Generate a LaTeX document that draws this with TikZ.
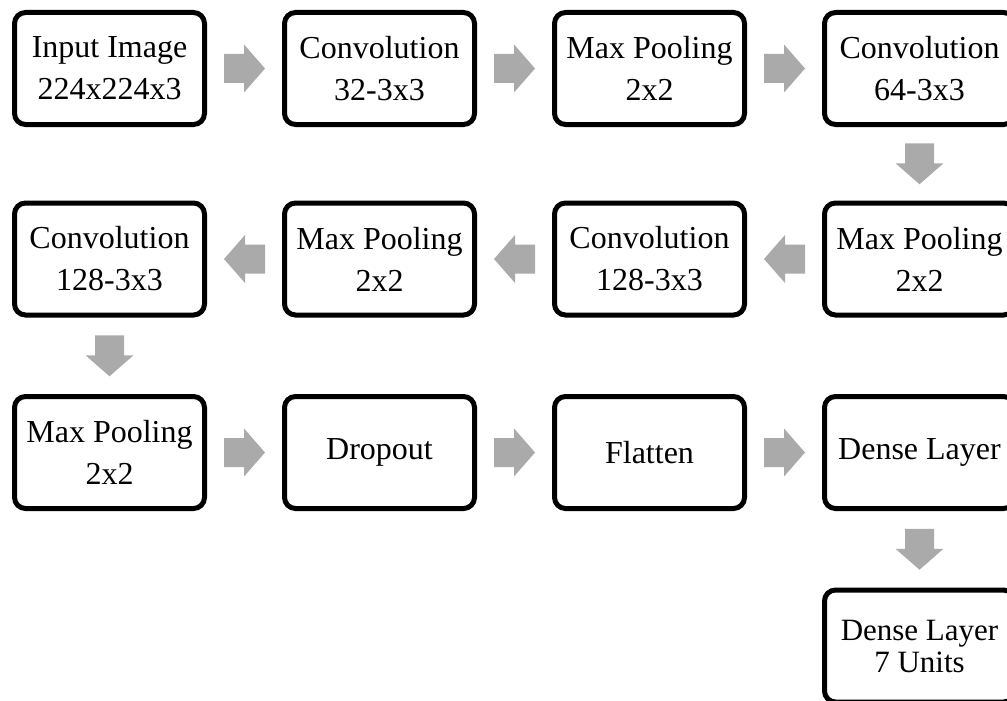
\documentclass[tikz,border=0pt]{standalone}
\usepackage{fontspec}
\setmainfont{Liberation Serif}
\usetikzlibrary{calc}
\definecolor{arrowgray}{RGB}{170,170,170}
\tikzset{
  layerbox/.style={draw=black, line width=5pt, rounded corners=11pt, minimum width=190pt, minimum height=112pt, align=center, inner sep=0pt, font=\fontsize{32}{42}\selectfont},
  lastbox/.style={layerbox, font=\fontsize{31}{32}\selectfont},
  blockarrow/.pic={\fill[arrowgray] (-20.5,-14.5) -- (-0.5,-14.5) -- (-0.5,-24) -- (20.5,0) -- (-0.5,24) -- (-0.5,14.5) -- (-20.5,14.5) -- cycle;},
}
\begin{document}
\begin{tikzpicture}[x=1pt,y=-1pt]
\useasboundingbox (0,0) rectangle (1007,701);
% row 1
\node[layerbox] (in)  at (109.5,68.5) {Input Image\\224x224x3};
\node[layerbox] (cv1) at (379.5,68.5) {Convolution\\32-3x3};
\node[layerbox] (mp1) at (649.5,68.5) {Max Pooling\\2x2};
\node[layerbox] (cv2) at (919.5,68.5) {Convolution\\64-3x3};
% row 2
\node[layerbox] (mp2) at (919.5,259) {Max Pooling\\2x2};
\node[layerbox] (cv3) at (649.5,259) {Convolution\\128-3x3};
\node[layerbox] (mp3) at (379.5,259) {Max Pooling\\2x2};
\node[layerbox] (cv4) at (109.5,259) {Convolution\\128-3x3};
% row 3
\node[layerbox] (mp4) at (109.5,452.5) {Max Pooling\\2x2};
\node[layerbox] (dr)  at (379.5,452.5) {Dropout};
\node[layerbox] (fl)  at (649.5,452.5) {Flatten};
\node[layerbox] (de1) at (919.5,452.5) {Dense Layer};
% row 4
\node[lastbox] (de2) at (919.5,646) {Dense Layer\\7 Units};
% arrows
\pic at ($(in.east)!0.5!(cv1.west)$) {blockarrow};
\pic at ($(cv1.east)!0.5!(mp1.west)$) {blockarrow};
\pic at ($(mp1.east)!0.5!(cv2.west)$) {blockarrow};
\pic[rotate=-90] at ($(cv2.south)!0.5!(mp2.north)$) {blockarrow};
\pic[rotate=180] at ($(mp2.west)!0.5!(cv3.east)$) {blockarrow};
\pic[rotate=180] at ($(cv3.west)!0.5!(mp3.east)$) {blockarrow};
\pic[rotate=180] at ($(mp3.west)!0.5!(cv4.east)$) {blockarrow};
\pic[rotate=-90] at ($(cv4.south)!0.5!(mp4.north)$) {blockarrow};
\pic at ($(mp4.east)!0.5!(dr.west)$) {blockarrow};
\pic at ($(dr.east)!0.5!(fl.west)$) {blockarrow};
\pic at ($(fl.east)!0.5!(de1.west)$) {blockarrow};
\pic[rotate=-90] at ($(de1.south)!0.5!(de2.north)$) {blockarrow};
\end{tikzpicture}
\end{document}
